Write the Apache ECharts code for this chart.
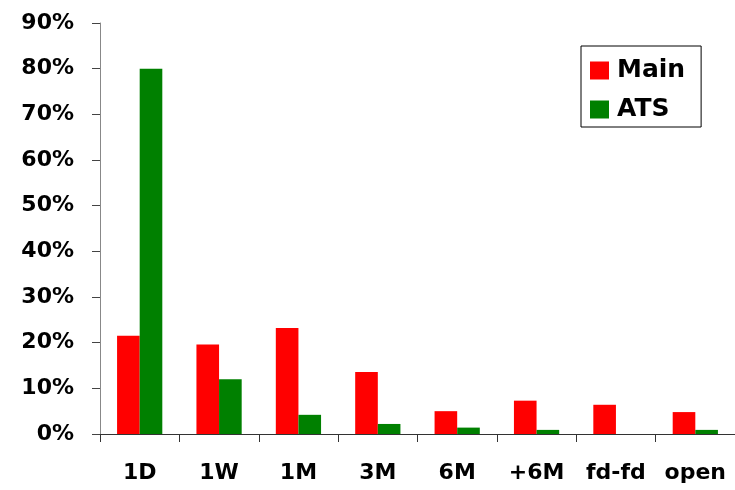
<!DOCTYPE html>
<html><head><meta charset="utf-8">
<script src="https://cdn.jsdelivr.net/npm/echarts@6/dist/echarts.min.js"></script>
<style>html,body{margin:0;padding:0;background:#fff}#c{width:735px;height:490px}</style>
</head><body><div id="c"></div>
<script>
var categories = ['1D','1W','1M','3M','6M','+6M','fd-fd','open'];
var mainValues = [21.5, 19.6, 23.2, 13.6, 5.0, 7.3, 6.4, 4.8];
var atsValues = [80.0, 12.0, 4.2, 2.2, 1.4, 0.9, 0, 0.9];
var yTicks = {min: 0, max: 90, interval: 10};
var font = 'DejaVu Sans';
var chart = echarts.init(document.getElementById('c'));
chart.setOption({
  animation: false,
  backgroundColor: '#fff',
  grid: {left: 100, top: 23, bottom: 56, right: -5, containLabel: false},
  legend: {
    orient: 'vertical', left: 581, top: 46,
    borderColor: '#000', borderWidth: 1, borderRadius: 0,
    padding: [12, 16, 5, 9],
    itemWidth: 19, itemHeight: 18, itemGap: 14,
    icon: 'rect',
    textStyle: {fontFamily: font, fontWeight: 'bold', fontSize: 25, color: '#000', lineHeight: 25, padding: [0, 0, 0, 3]}
  },
  xAxis: {
    type: 'category', data: categories,
    axisLine: {lineStyle: {color: '#333'}},
    axisTick: {show: true, length: 8, lineStyle: {color: '#333'}},
    axisLabel: {fontFamily: font, fontWeight: 'bold', fontSize: 22, color: '#000', margin: 28, interval: 0}
  },
  yAxis: {
    type: 'value', min: yTicks.min, max: yTicks.max, interval: yTicks.interval,
    axisLine: {show: true, lineStyle: {color: '#888'}},
    axisTick: {show: true, length: 8, lineStyle: {color: '#444'}},
    splitLine: {show: false},
    axisLabel: {formatter: '{value}%', fontFamily: font, fontWeight: 'bold', fontSize: 22, color: '#000', margin: 26}
  },
  series: [
    {name: 'Main', type: 'bar', data: mainValues, itemStyle: {color: '#ff0000'}, barGap: '0%', barCategoryGap: '43%'},
    {name: 'ATS', type: 'bar', data: atsValues, itemStyle: {color: '#008000'}, barGap: '0%', barCategoryGap: '43%'}
  ]
});
</script></body></html>
